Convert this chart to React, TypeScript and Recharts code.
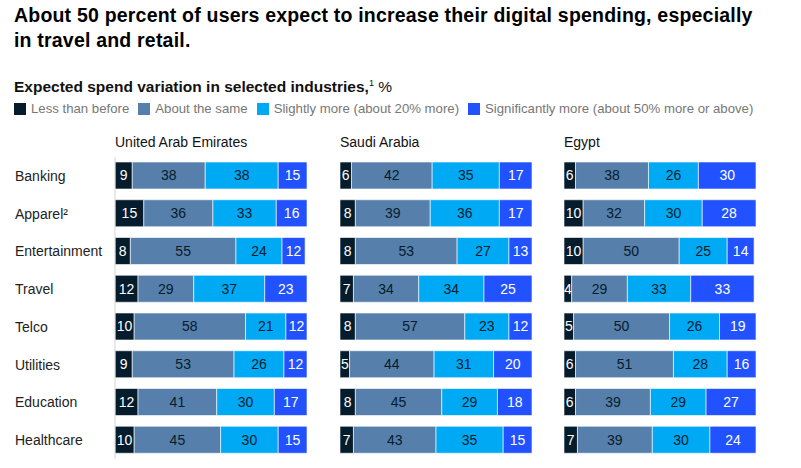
import React from "react"
import { BarChart, Bar, XAxis, YAxis, LabelList } from "recharts"

const industries = ["Banking", "Apparel²", "Entertainment", "Travel", "Telco", "Utilities", "Education", "Healthcare"]

const countries = ["United Arab Emirates", "Saudi Arabia", "Egypt"]

// % of respondents, per industry
const uaeLess = [9, 15, 8, 12, 10, 9, 12, 10]
const uaeSame = [38, 36, 55, 29, 58, 53, 41, 45]
const uaeSlightly = [38, 33, 24, 37, 21, 26, 30, 30]
const uaeSignificantly = [15, 16, 12, 23, 12, 12, 17, 15]

const ksaLess = [6, 8, 8, 7, 8, 5, 8, 7]
const ksaSame = [42, 39, 53, 34, 57, 44, 45, 43]
const ksaSlightly = [35, 36, 27, 34, 23, 31, 29, 35]
const ksaSignificantly = [17, 17, 13, 25, 12, 20, 18, 15]

const egyLess = [6, 10, 10, 4, 5, 6, 6, 7]
const egySame = [38, 32, 50, 29, 50, 51, 39, 39]
const egySlightly = [26, 30, 25, 33, 26, 28, 29, 30]
const egySignificantly = [30, 28, 14, 33, 19, 16, 27, 24]

const series = [
  { key: "less", name: "Less than before", color: "#051c2c", text: "#ffffff" },
  { key: "same", name: "About the same", color: "#567fab", text: "#051c2c" },
  { key: "slightly", name: "Slightly more (about 20% more)", color: "#00a9f4", text: "#051c2c" },
  { key: "significantly", name: "Significantly more (about 50% more or above)", color: "#2251ff", text: "#ffffff" },
]

const FONT = "'Liberation Sans', Arial, sans-serif"

function buildRows(less: number[], same: number[], slightly: number[], significantly: number[]) {
  return industries.map((name, i) => ({
    name,
    less: less[i],
    same: same[i],
    slightly: slightly[i],
    significantly: significantly[i],
  }))
}

const panels = [
  buildRows(uaeLess, uaeSame, uaeSlightly, uaeSignificantly),
  buildRows(ksaLess, ksaSame, ksaSlightly, ksaSignificantly),
  buildRows(egyLess, egySame, egySlightly, egySignificantly),
]

const renderCategoryTick = (props: any) => {
  const { y, payload } = props
  return (
    <text x={15} y={y} dy={5} textAnchor="start" fontSize={14} fill="#222" fontFamily={FONT}>
      {payload.value}
    </text>
  )
}

function Panel({ data, title, left, width, axisLeft, showCategories }: {
  data: any[]; title: string; left: number; width: number; axisLeft: number; showCategories: boolean
}) {
  const axisWidth = showCategories ? 100 : 0
  return (
    <div style={{ position: "absolute", left, top: 0 }}>
      <div style={{ position: "absolute", left: axisLeft, top: 134, fontSize: 14, color: "#111", whiteSpace: "nowrap" }}>
        {title}
      </div>
      <BarChart
        width={width}
        height={468}
        data={data}
        layout="vertical"
        barSize={27}
        margin={{ top: 157, right: width - axisLeft - 192, bottom: 9, left: axisLeft - axisWidth }}
      >
        <XAxis type="number" domain={[0, 100]} allowDataOverflow hide />
        <YAxis
          type="category"
          dataKey="name"
          width={axisWidth}
          interval={0}
          axisLine={{ stroke: "#d4d4d4" }}
          tickLine={false}
          tick={showCategories ? renderCategoryTick : false}
        />
        {series.map((s) => (
          <Bar key={s.key} dataKey={s.key} stackId="a" fill={s.color} stroke="#ffffff" strokeWidth={0.6} isAnimationActive={false}>
            <LabelList dataKey={s.key} position="center" fill={s.text} fontSize={14} fontFamily={FONT} />
          </Bar>
        ))}
      </BarChart>
    </div>
  )
}

export default function App() {
  return (
    <div style={{ position: "absolute", left: 0, top: 0, width: 801, height: 468, background: "#fff", fontFamily: FONT, overflow: "hidden" }}>
      <div style={{ position: "absolute", left: 14, top: 3, fontSize: 19.5, fontWeight: 700, letterSpacing: 0.2, lineHeight: "25px", color: "#000", whiteSpace: "nowrap" }}>
        About 50 percent of users expect to increase their digital spending, especially
        <br />
        in travel and retail.
      </div>
      <div style={{ position: "absolute", left: 14, top: 78, fontSize: 15.5, fontWeight: 700, color: "#111", whiteSpace: "nowrap" }}>
        Expected spend variation in selected industries,<sup style={{ fontSize: 9, fontWeight: 400 }}>1</sup> <span style={{ fontWeight: 400 }}>%</span>
      </div>
      <div style={{ position: "absolute", left: 14, top: 101, display: "flex", fontSize: 13.2, color: "#777", whiteSpace: "nowrap" }}>
        {series.map((s) => (
          <div key={s.key} style={{ display: "flex", alignItems: "center", marginRight: 9 }}>
            <span style={{ width: 12, height: 12, background: s.color, marginRight: 5, display: "inline-block" }} />
            {s.name}
          </div>
        ))}
      </div>
      <Panel data={panels[0]} title={countries[0]} left={0} width={330} axisLeft={115} showCategories />
      <Panel data={panels[1]} title={countries[1]} left={330} width={220} axisLeft={10} showCategories={false} />
      <Panel data={panels[2]} title={countries[2]} left={554} width={220} axisLeft={10} showCategories={false} />
    </div>
  )
}
